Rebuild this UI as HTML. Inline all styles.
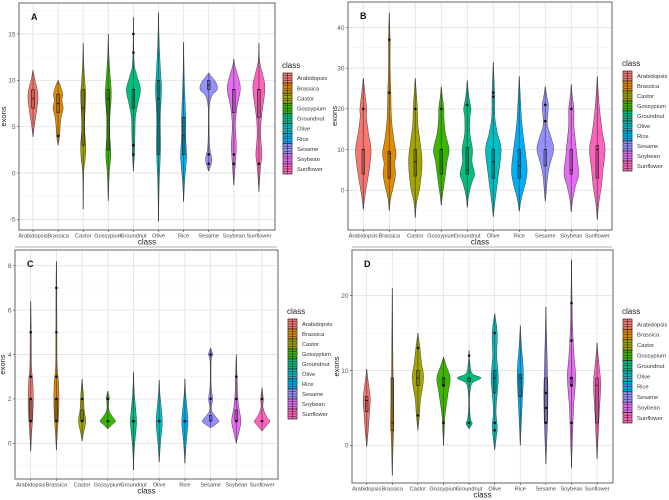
<!DOCTYPE html>
<html><head><meta charset="utf-8"><style>
html,body{margin:0;padding:0;background:#fff}
svg{display:block;font-family:"Liberation Sans",sans-serif}
</style></head><body>
<svg id="chart" width="669" height="500" viewBox="0 0 669 500">
</svg>
<script>
const categories=["Arabidopsis","Brassica","Castor","Gossypium","Groundnut","Olive","Rice","Sesame","Soybean","Sunflower"];
const colors=["#F8766D","#E08B00","#A3A500","#39B600","#00BF7D","#00BFC4","#00B0F6","#9590FF","#E76BF3","#FF62BC"];

// Panel A: exons
const ticksA=[-5,0,5,10,15];
const shapeA=[
 [[3.9,0],[5,0.05],[6.5,0.13],[8,0.2],[9,0.17],[10,0.08],[11.1,0]],
 [[3,0],[4,0.06],[5,0.08],[6,0.12],[7,0.2],[7.8,0.15],[8.5,0.18],[9.5,0.08],[10,0]],
 [[-3.9,0],[0,0.02],[1.5,0.08],[3,0.1],[5,0.05],[7,0.08],[8.5,0.1],[10,0.06],[12,0.02],[14,0]],
 [[-3,0],[0,0.04],[2,0.1],[4,0.06],[6,0.06],[8.5,0.12],[11,0.06],[13,0.02],[15,0]],
 [[0.2,0],[2,0.04],[4,0.06],[6,0.08],[7.5,0.18],[9,0.28],[10.5,0.14],[12,0.03],[16.8,0]],
 [[-5.2,0],[-1,0.03],[1,0.06],[3,0.08],[6,0.07],[9,0.12],[11,0.08],[14,0.03],[17.3,0]],
 [[-3.1,0],[-1,0.04],[1,0.1],[2,0.12],[4,0.08],[6,0.08],[9,0.04],[11,0.02],[14.1,0]],
 [[0.2,0],[1,0.1],[1.6,0.12],[2.5,0.05],[4,0.02],[7,0.02],[8.3,0.12],[9,0.34],[9.7,0.3],[10.3,0.14],[10.8,0]],
 [[-1.3,0],[1,0.06],[3,0.1],[5,0.06],[7,0.12],[9,0.26],[10.3,0.18],[11.5,0.05],[12.3,0]],
 [[-2,0],[0.5,0.06],[2,0.12],[4,0.07],[6,0.1],[9,0.24],[10.5,0.16],[12,0.03],[14,0]]
];
const boxA=[[7,8,9],[6.5,7.5,8.5],[3,7,9],[2.5,8,9],[7,9,9],[2,8,10],[2,4,6],[9,9.5,10],[6.5,9,9],[6,9,9]];
const ptsA=[[],[4],[],[],[15,13,3,2],[],[],[2,1],[2,1],[1]];

// Panel B: exons
const ticksB=[0,10,20,30,40];
const shapeB=[
 [[-4.7,0],[-2,0.05],[2,0.15],[6,0.25],[10,0.3],[14,0.2],[18,0.12],[20,0.13],[24,0.06],[27.5,0]],
 [[-5,0],[-2,0.05],[1,0.16],[4,0.24],[6.5,0.2],[9,0.26],[13,0.16],[18,0.08],[24,0.06],[30,0.03],[37,0.03],[43.6,0]],
 [[-6.7,0],[-3,0.05],[1,0.18],[7,0.26],[12,0.18],[16,0.1],[20,0.08],[24,0.04],[27.5,0]],
 [[-3.7,0],[-1,0.05],[3,0.14],[7,0.22],[10,0.3],[14,0.16],[18,0.1],[20,0.1],[23,0.04],[25.5,0]],
 [[-4.2,0],[-1,0.06],[2,0.18],[4,0.28],[7,0.18],[10,0.2],[14,0.1],[18,0.1],[20,0.14],[23,0.06],[27,0]],
 [[-6.5,0],[-3,0.06],[0,0.12],[4,0.2],[10,0.3],[14,0.16],[18,0.06],[23,0.05],[27,0.03],[31.5,0]],
 [[-5.2,0],[-2,0.08],[2,0.24],[5,0.3],[9,0.24],[14,0.14],[18,0.08],[23,0.04],[28,0]],
 [[-2.7,0],[0,0.04],[3,0.08],[6,0.16],[10,0.32],[13,0.22],[16,0.08],[19,0.1],[21,0.12],[23,0.06],[25.5,0]],
 [[-5.3,0],[-2,0.06],[1,0.16],[4,0.28],[8,0.22],[12,0.16],[16,0.1],[20,0.1],[23,0.04],[26,0]],
 [[-7.2,0],[-3,0.06],[1,0.16],[5,0.22],[10,0.3],[14,0.2],[18,0.12],[22,0.06],[28,0]]
];
const boxB=[[4,10,10],[3,9,9.5],[3.5,7,10],[4,10,10],[4,5,10.5],[3,7,10],[3,6,10],[6,10,10],[4,5,10],[3,10,11]];
const ptsB=[[20],[37,24],[20],[20],[21],[24,23],[],[21,17],[20],[]];

// Panel C: exons
const ticksC=[0,2,4,6,8];
const shapeC=[
 [[-0.35,0],[0.5,0.04],[1.2,0.08],[2,0.1],[2.8,0.08],[3.5,0.03],[5,0.02],[6.4,0]],
 [[-0.3,0],[0.5,0.04],[1.2,0.08],[2,0.1],[2.8,0.08],[3.5,0.03],[5,0.02],[7,0.015],[8.2,0]],
 [[0.1,0],[0.5,0.06],[1,0.14],[1.5,0.08],[2,0.06],[2.5,0.03],[2.9,0]],
 [[0.65,0],[0.85,0.18],[1,0.3],[1.2,0.18],[1.5,0.04],[1.9,0.04],[2.05,0.06],[2.35,0]],
 [[-1.2,0],[-0.3,0.03],[0.5,0.09],[1,0.12],[1.6,0.08],[2.3,0.03],[3.2,0]],
 [[-0.85,0],[0,0.05],[0.6,0.1],[1,0.12],[1.6,0.08],[2.2,0.03],[2.85,0]],
 [[-0.9,0],[0,0.05],[0.6,0.1],[1,0.12],[1.6,0.08],[2.2,0.03],[2.9,0]],
 [[0.7,0],[0.85,0.2],[1,0.32],[1.2,0.2],[1.5,0.03],[1.9,0.07],[2.1,0.07],[2.6,0.02],[3.7,0.02],[4,0.08],[4.3,0]],
 [[0,0],[0.5,0.1],[1,0.18],[1.6,0.1],[2.2,0.05],[3,0.03],[4,0]],
 [[0.55,0],[0.8,0.18],[1,0.3],[1.2,0.18],[1.6,0.04],[2,0.05],[2.5,0]]
];
const boxC=[[1,2,2],[1,2,2],[1,1,1.5],[1,1,1],[1,1,1],[1,1,1],[1,1,1],[1,1,1.25],[1,1,1.5],[1,1,1]];
const ptsC=[[5,3,2,1],[7,5,3,2,1],[2,1],[2,1],[1],[1],[1],[4,2],[3,2,1],[2,1]];

// Panel D: exons
const ticksD=[0,10,20];
const shapeD=[
 [[-0.2,0],[2,0.06],[4,0.1],[6,0.14],[7.5,0.1],[9,0.04],[10.2,0]],
 [[-4,0],[0,0.03],[3,0.06],[6,0.04],[9,0.03],[13,0.02],[21,0]],
 [[2,0],[4,0.06],[6,0.1],[9,0.22],[11,0.14],[13,0.08],[15,0]],
 [[0,0],[2,0.03],[4,0.06],[7,0.18],[9,0.26],[10.5,0.12],[11.8,0]],
 [[2.2,0],[2.6,0.08],[3,0.12],[3.5,0.06],[5,0.02],[7,0.03],[8.3,0.12],[9,0.46],[9.6,0.12],[11,0.03],[12.7,0]],
 [[-0.6,0],[1,0.06],[2.5,0.1],[4.5,0.05],[7,0.1],[9,0.14],[12,0.08],[15,0.1],[17.6,0]],
 [[0,0],[3,0.04],[6,0.08],[9,0.12],[11,0.1],[13,0.05],[16,0]],
 [[-2.5,0],[1,0.04],[4,0.07],[7,0.08],[10,0.06],[14,0.03],[18.5,0]],
 [[-3,0],[1,0.04],[5,0.08],[9,0.16],[12,0.1],[16,0.04],[20,0.02],[24.8,0]],
 [[-1.8,0],[1,0.04],[4,0.08],[8,0.14],[10,0.1],[12,0.04],[13.7,0]]
];
const boxD=[[4.5,6,6.5],[2,3,9],[8,9,10],[8,9,9],[8.5,9,9],[7,9,10],[6.5,9,9.5],[3,7,9],[8,9,9],[3,8,9]];
const ptsD=[[],[],[13,4],[8,3],[12,3],[15,3,2],[],[7,5,3],[19,14,9,8,3],[]];

const NS="http://www.w3.org/2000/svg";
const svg=document.getElementById("chart");
function mk(tag,attrs,parent){const e=document.createElementNS(NS,tag);for(const k in attrs)e.setAttribute(k,attrs[k]);(parent||svg).appendChild(e);return e;}

function smoothPath(pts){
  let d="M"+pts[0][0].toFixed(2)+","+pts[0][1].toFixed(2);
  for(let i=0;i<pts.length-1;i++){
    const p0=pts[Math.max(0,i-1)],p1=pts[i],p2=pts[i+1],p3=pts[Math.min(pts.length-1,i+2)];
    const c1=[p1[0]+(p2[0]-p0[0])/6,p1[1]+(p2[1]-p0[1])/6];
    const c2=[p2[0]-(p3[0]-p1[0])/6,p2[1]-(p3[1]-p1[1])/6];
    d+="C"+c1[0].toFixed(2)+","+c1[1].toFixed(2)+" "+c2[0].toFixed(2)+","+c2[1].toFixed(2)+" "+p2[0].toFixed(2)+","+p2[1].toFixed(2);
  }
  return d;
}

function drawPanel(cfg){
  const g=mk("g",{});
  
  
  const yS=v=>cfg.y0-v*cfg.ppu;
  const xS=i=>cfg.x0+i*cfg.sp;
  mk("rect",{x:cfg.left,y:cfg.top,width:cfg.right-cfg.left,height:cfg.bottom-cfg.top,fill:"#fff"},g);
  const step=cfg.ticks[1]-cfg.ticks[0];
  for(let v=cfg.ticks[0]-step;v<=cfg.ticks[cfg.ticks.length-1]+step;v+=step/2){
    const y=yS(v); if(y<cfg.top||y>cfg.bottom)continue;
    const major=cfg.ticks.includes(v);
    mk("line",{x1:cfg.left,x2:cfg.right,y1:y,y2:y,stroke:major?"#e4e4e4":"#f2f2f2","stroke-width":major?0.9:0.6},g);
  }
  categories.forEach((c,i)=>mk("line",{x1:xS(i),x2:xS(i),y1:cfg.top,y2:cfg.bottom,stroke:"#e4e4e4","stroke-width":0.9},g));
  categories.forEach((c,i)=>{
    const sh=cfg.shape[i],cx=xS(i);
    const right=sh.map(k=>[cx+k[1]*cfg.sp,yS(k[0])]);
    const left=sh.slice().reverse().map(k=>[cx-k[1]*cfg.sp,yS(k[0])]);
    const d=smoothPath(right)+smoothPath(left).replace(/^M/,"L")+"Z";
    const p=mk("path",{d:d,fill:colors[i],stroke:"#444","stroke-width":0.5},g);
    
    
    mk("line",{x1:cx,x2:cx,y1:yS(sh[0][0]),y2:yS(sh[sh.length-1][0]),stroke:"#222","stroke-width":0.9,"stroke-opacity":0.55},g);
    const b=cfg.box[i];
    const bx=mk("rect",{x:cx-1.3,y:yS(b[2]),width:2.6,height:Math.max(0.6,yS(b[0])-yS(b[2])),fill:"none",stroke:"#111","stroke-width":0.6},g);
    
    
    mk("line",{x1:cx-1.3,x2:cx+1.3,y1:yS(b[1]),y2:yS(b[1]),stroke:"#111","stroke-width":0.8},g);
    cfg.pts[i].forEach(v=>{
      const pt=mk("circle",{cx:cx,cy:yS(v),r:1.3,fill:"#111"},g);
      
      
    });
  });
  mk("rect",{x:cfg.left,y:cfg.top,width:cfg.right-cfg.left,height:cfg.bottom-cfg.top,fill:"none",stroke:"#666","stroke-width":1},g);
  cfg.ticks.forEach(v=>{
    const y=yS(v);
    mk("line",{x1:cfg.left-2,x2:cfg.left,y1:y,y2:y,stroke:"#444","stroke-width":0.6},g);
    const t=mk("text",{x:cfg.left-3.5,y:y+2.3,"font-size":6.5,fill:"#555","text-anchor":"end"},g);
    t.textContent=v;
    
    
  });
  categories.forEach((c,i)=>{
    mk("line",{x1:xS(i),x2:xS(i),y1:cfg.bottom,y2:cfg.bottom+2,stroke:"#444","stroke-width":0.6},g);
    const t=mk("text",{x:xS(i),y:cfg.bottom+7.5,"font-size":5.6,fill:"#444","text-anchor":"middle"},g);
    t.textContent=c;
    
    
  });
  const xt=mk("text",{x:(cfg.left+cfg.right)/2,y:cfg.bottom+14.5,"font-size":8,fill:"#222","text-anchor":"middle"},g);
  xt.textContent="class";
  
  
  const yl=mk("text",{x:cfg.ylx,y:(cfg.top+cfg.bottom)/2,"font-size":7.5,fill:"#222","text-anchor":"middle",transform:"rotate(-90 "+cfg.ylx+" "+(cfg.top+cfg.bottom)/2+")"},g);
  yl.textContent="exons";
  
  
  const lab=mk("text",{x:cfg.left+12,y:cfg.top+17,"font-size":9,"font-weight":"bold",fill:"#111"},g);
  lab.textContent=cfg.id;
  
  
  const lt=mk("text",{x:cfg.lx,y:cfg.ly,"font-size":8,fill:"#222"},g);
  lt.textContent="class";
  
  
  categories.forEach((c,i)=>{
    const ky=cfg.ly+5+i*cfg.lsp;
    const kg=mk("g",{},g);
    
    
    mk("rect",{x:cfg.lx+1,y:ky,width:9,height:cfg.lsp,fill:colors[i],stroke:"#222","stroke-width":0.7},kg);
    for(let k=1;k<4;k++)mk("line",{x1:cfg.lx+2,x2:cfg.lx+9,y1:ky+k*cfg.lsp/4,y2:ky+k*cfg.lsp/4,stroke:"#222","stroke-width":0.5},kg);
    mk("line",{x1:cfg.lx+5.5,x2:cfg.lx+5.5,y1:ky,y2:ky+cfg.lsp,stroke:"#222","stroke-width":0.6},kg);
    const t=mk("text",{x:cfg.lx+15,y:ky+cfg.lsp/2+2.1,"font-size":5.8,fill:"#333"},kg);
    t.textContent=c;
  });
}

drawPanel({id:"A",left:19,right:275,top:3,bottom:230,x0:33,sp:25.1,y0:173,ppu:9.27,ticks:ticksA,shape:shapeA,box:boxA,pts:ptsA,ylx:6,lx:282,ly:68,lsp:10.1});
drawPanel({id:"B",left:348,right:612,top:2,bottom:230,x0:363.3,sp:26,y0:190.3,ppu:4.07,ticks:ticksB,shape:shapeB,box:boxB,pts:ptsB,ylx:337,lx:622,ly:66,lsp:10});
drawPanel({id:"C",left:15,right:278,top:250,bottom:479,x0:30.7,sp:25.7,y0:443.3,ppu:22.2,ticks:ticksC,shape:shapeC,box:boxC,pts:ptsC,ylx:5,lx:287,ly:314,lsp:10});
drawPanel({id:"D",left:352,right:613,top:250,bottom:483,x0:366.7,sp:25.6,y0:445.3,ppu:7.48,ticks:ticksD,shape:shapeD,box:boxD,pts:ptsD,ylx:339,lx:622,ly:314,lsp:10.4});

mk("line",{x1:15,x2:277,y1:247,y2:247,stroke:"#999","stroke-width":0.8});
mk("line",{x1:352,x2:612,y1:247,y2:247,stroke:"#999","stroke-width":0.8});
</script>
</body></html>
